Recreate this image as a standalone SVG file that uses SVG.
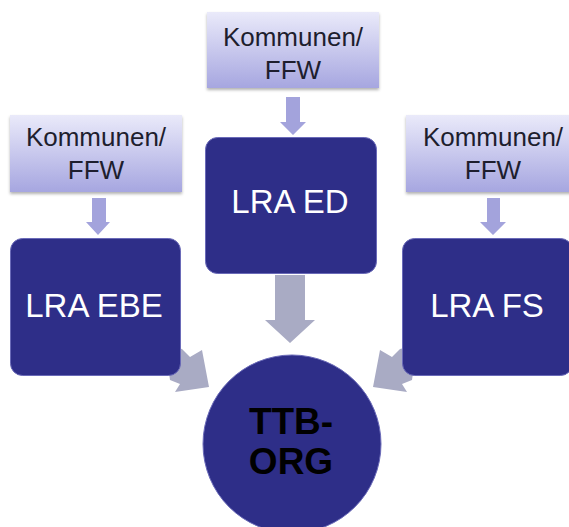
<svg xmlns="http://www.w3.org/2000/svg" width="569" height="527" viewBox="0 0 569 527">
  <defs>
    <linearGradient id="kg" x1="0" y1="0" x2="0" y2="1">
      <stop offset="0" stop-color="#eaeafa"/>
      <stop offset="1" stop-color="#a6a6e0"/>
    </linearGradient>
    <filter id="sh" x="-10%" y="-10%" width="120%" height="130%">
      <feDropShadow dx="0" dy="2" stdDeviation="1.5" flood-color="#000" flood-opacity="0.3"/>
    </filter>
  </defs>
  <style>
    .k { fill: url(#kg); filter: url(#sh); }
    .kt { font-family: "Liberation Sans", Arial, sans-serif; font-size: 26px; fill: #1e1e2e; text-anchor: middle; }
    .lra { fill: #2e2e88; stroke: #6a6ab8; stroke-width: 1; }
    .lt { font-family: "Liberation Sans", Arial, sans-serif; font-size: 33px; fill: #ffffff; text-anchor: middle; }
    .ct { font-family: "Liberation Sans", Arial, sans-serif; font-size: 37px; font-weight: bold; fill: #000000; text-anchor: middle; }
    .a1 { fill: #a3a3dc; }
    .a2 { fill: #a9abc4; }
  </style>
  <rect width="569" height="527" fill="#ffffff"/>

  <g id="connectors">
    <polygon class="a1" points="286,97 300,97 300,122 306,122 293,135 280,122 286,122"/>
    <polygon class="a1" points="92,198 106,198 106,222 110,222 98,235 86,222 92,222"/>
    <polygon class="a1" points="487,198 500,198 500,222 506,222 493,235 480,222 487,222"/>
    <polygon class="a2" points="275,275 305,275 305,320 315,320 290,343 265,320 275,320"/>
    <polygon class="a2" points="165,345 182,349 190,357 202,350 209,387 175,392 180,384 170,380"/>
    <polygon class="a2" points="417,345 400,349 392,357 380,350 373,387 407,392 402,384 412,380"/>
  </g>

  <g id="kommunen-top">
    <rect class="k" x="207" y="12" width="172" height="76"/>
    <text class="kt" x="293" y="45.5">Kommunen/</text>
    <text class="kt" x="293" y="78.5">FFW</text>
  </g>
  <g id="kommunen-left">
    <rect class="k" x="10" y="115" width="172" height="77"/>
    <text class="kt" x="96" y="145.5">Kommunen/</text>
    <text class="kt" x="96" y="178.5">FFW</text>
  </g>
  <g id="kommunen-right">
    <rect class="k" x="406" y="115" width="172" height="77"/>
    <text class="kt" x="493" y="145.5">Kommunen/</text>
    <text class="kt" x="493" y="178.5">FFW</text>
  </g>

  <g id="lra-ed">
    <rect class="lra" x="205.5" y="137.5" width="171" height="136" rx="12"/>
    <text class="lt" x="290" y="213">LRA ED</text>
  </g>
  <g id="lra-ebe">
    <rect class="lra" x="10.5" y="238.5" width="170" height="137" rx="12"/>
    <text class="lt" x="94" y="317">LRA EBE</text>
  </g>
  <g id="lra-fs">
    <rect class="lra" x="402.5" y="238.5" width="170" height="137" rx="12"/>
    <text class="lt" x="487" y="317">LRA FS</text>
  </g>

  <g id="ttb-org">
    <circle cx="292" cy="444" r="89" fill="#2e2e88" stroke="#6a6ab8" stroke-width="1"/>
    <text class="ct" x="291" y="434">TTB-</text>
    <text class="ct" x="291" y="474">ORG</text>
  </g>
</svg>
